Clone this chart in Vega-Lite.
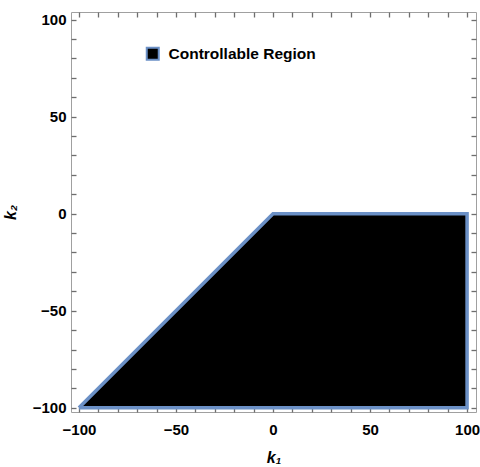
{
  "$schema": "https://vega.github.io/schema/vega-lite/v6.json",
  "width": 405,
  "height": 400,
  "autosize": "none",
  "padding": {"left": 71, "top": 12, "right": 4, "bottom": 55},
  "background": "white",
  "config": {
    "view": {"stroke": "#a0a0a0", "strokeWidth": 1},
    "font": "Liberation Sans",
    "axis": {
      "grid": false,
      "domain": false,
      "tickColor": "#6e6e6e",
      "tickWidth": 1.3,
      "ticks": true,
      "zindex": 1,
      "labelFont": "Liberation Sans",
      "labelFontWeight": "bold",
      "labelFontSize": 15,
      "labelColor": "black",
      "titleFont": "Liberation Sans",
      "titleFontWeight": "bold",
      "titleFontStyle": "italic",
      "titleFontSize": 16,
      "titleColor": "black"
    }
  },
  "datasets": {
    "region": [
      {"k1": -100, "top": -100, "bottom": -100},
      {"k1": 0, "top": 0, "bottom": -100},
      {"k1": 100, "top": 0, "bottom": -100}
    ],
    "edge": [
      {"i": 1, "k1": -100, "k2": -100},
      {"i": 2, "k1": 0, "k2": 0},
      {"i": 3, "k1": 100, "k2": 0},
      {"i": 4, "k1": 100, "k2": -100},
      {"i": 5, "k1": -100, "k2": -100}
    ]
  },
  "layer": [
    {
      "data": {"name": "region"},
      "mark": {"type": "area", "opacity": 1, "clip": true},
      "encoding": {
        "x": {
          "field": "k1",
          "type": "quantitative",
          "scale": {"domain": [-104.1, 104.6], "nice": false, "zero": false},
          "axis": {
            "orient": "bottom",
            "title": "k₁",
            "titlePadding": 12,
            "values": [-100, -90, -80, -70, -60, -50, -40, -30, -20, -10, 0, 10, 20, 30, 40, 50, 60, 70, 80, 90, 100],
            "labelExpr": "datum.value % 50 === 0 ? (datum.value < 0 ? '−' + abs(datum.value) : datum.label) : ''",
            "tickSize": -5,
            "labelPadding": 15,
            "labelFlush": false,
            "labelOverlap": false
          }
        },
        "y": {
          "field": "top",
          "type": "quantitative",
          "scale": {"domain": [-102.2, 103.9], "nice": false, "zero": false},
          "axis": {
            "orient": "left",
            "title": "k₂",
            "titlePadding": 14,
            "values": [-100, -90, -80, -70, -60, -50, -40, -30, -20, -10, 0, 10, 20, 30, 40, 50, 60, 70, 80, 90, 100],
            "labelExpr": "datum.value % 50 === 0 ? (datum.value < 0 ? '−' + abs(datum.value) : datum.label) : ''",
            "tickSize": -5,
            "labelPadding": 10,
            "labelFlush": false,
            "labelOverlap": false
          }
        },
        "y2": {"field": "bottom"},
        "color": {
          "datum": "Controllable Region",
          "type": "nominal",
          "scale": {"range": ["black"]},
          "legend": {
            "title": null,
            "orient": "none",
            "legendX": 74,
            "legendY": 34,
            "padding": 0,
            "symbolType": "square",
            "symbolSize": 144,
            "symbolFillColor": "black",
            "symbolStrokeColor": "#6b90c6",
            "symbolStrokeWidth": 2,
            "symbolOpacity": 1,
            "labelFont": "Liberation Sans",
            "labelFontWeight": "bold",
            "labelFontSize": 15.5,
            "labelColor": "black",
            "labelOffset": 8
          }
        }
      }
    },
    {
      "data": {"name": "edge"},
      "mark": {"type": "line", "color": "#6b90c6", "strokeWidth": 3.5, "strokeJoin": "miter", "clip": true},
      "encoding": {
        "order": {"field": "i", "type": "quantitative"},
        "x": {
          "field": "k1",
          "type": "quantitative",
          "axis": {
            "orient": "top",
            "title": null,
            "labels": false,
            "values": [-100, -90, -80, -70, -60, -50, -40, -30, -20, -10, 0, 10, 20, 30, 40, 50, 60, 70, 80, 90, 100],
            "tickSize": -5
          }
        },
        "y": {
          "field": "k2",
          "type": "quantitative",
          "axis": {
            "orient": "right",
            "title": null,
            "labels": false,
            "values": [-100, -90, -80, -70, -60, -50, -40, -30, -20, -10, 0, 10, 20, 30, 40, 50, 60, 70, 80, 90, 100],
            "tickSize": -5
          }
        }
      }
    }
  ],
  "resolve": {"axis": {"x": "independent", "y": "independent"}}
}
